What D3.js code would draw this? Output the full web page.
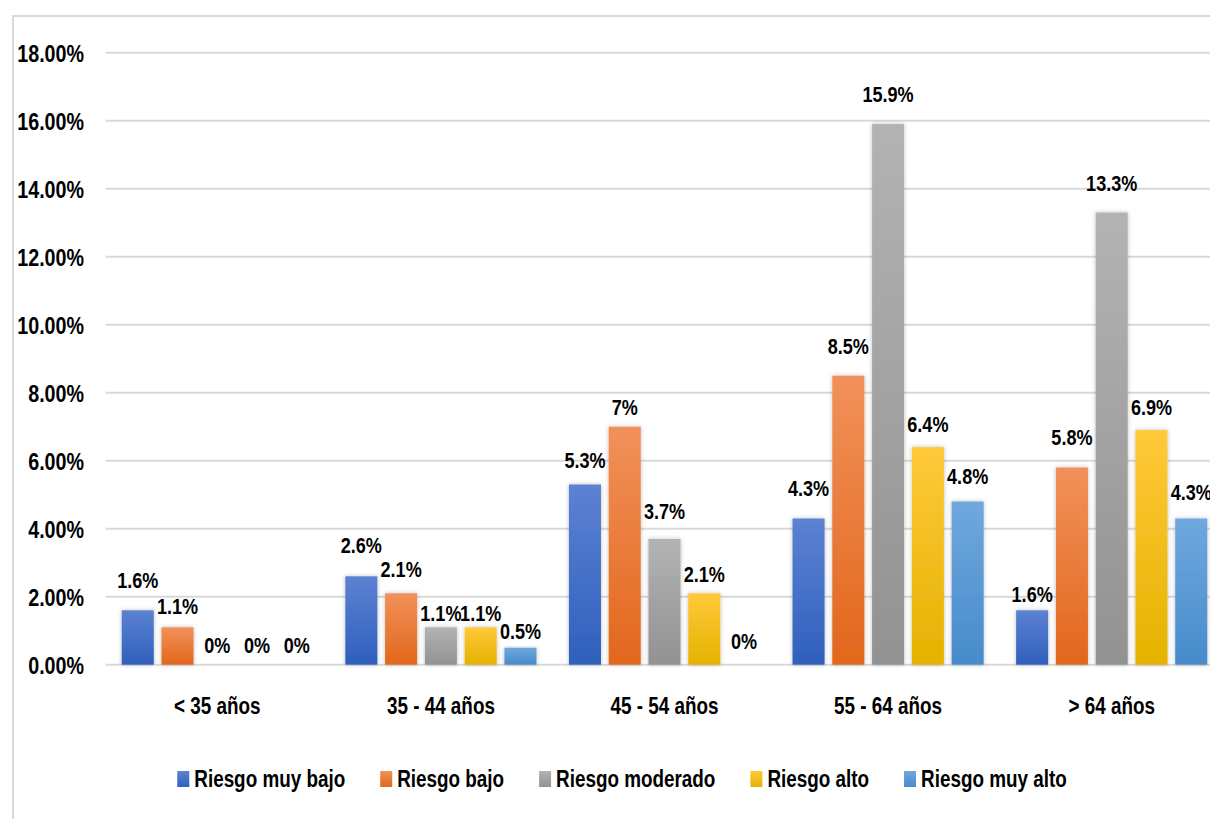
<!DOCTYPE html>
<html>
<head>
<meta charset="utf-8">
<script src="https://cdn.jsdelivr.net/npm/d3@7"></script>
<style>
  html, body { margin: 0; padding: 0; background: #fff; overflow: hidden; }
  svg { display: block; }
  text { font-family: "Liberation Sans", Arial, sans-serif; font-weight: bold; fill: #000; }
</style>
</head>
<body>
<svg id="chart" width="1210" height="819"></svg>
<script>
// Age groups and risk levels
const categories = ["< 35 años", "35 - 44 años", "45 - 54 años", "55 - 64 años", "> 64 años"];
const seriesNames = ["Riesgo muy bajo", "Riesgo bajo", "Riesgo moderado", "Riesgo alto", "Riesgo muy alto"];

// Percentage of people in each risk level, per age group
const riesgoMuyBajo  = [1.6, 2.6, 5.3, 4.3, 1.6];
const riesgoBajo     = [1.1, 2.1, 7.0, 8.5, 5.8];
const riesgoModerado = [0,   1.1, 3.7, 15.9, 13.3];
const riesgoAlto     = [0,   1.1, 2.1, 6.4, 6.9];
const riesgoMuyAlto  = [0,   0.5, 0,   4.8, 4.3];

const yTicks = [0, 2, 4, 6, 8, 10, 12, 14, 16, 18];

const seriesValues = [riesgoMuyBajo, riesgoBajo, riesgoModerado, riesgoAlto, riesgoMuyAlto];

// ---- styling / layout ----
const palette = [
  ["#5c82d2", "#2f5fbd"],
  ["#f1915a", "#e2671c"],
  ["#b3b3b3", "#929292"],
  ["#ffc93a", "#e5b200"],
  ["#70a8de", "#468bcb"]
];
// distance between each data label's baseline and its bar top (per group, per series)
const labelGap = [
  [22, 13, 12, 12, 12],
  [23, 16, 6, 6, 9],
  [17, 12, 20, 11, 16],
  [23, 22, 22, 15, 18],
  [8, 23, 22, 15, 19]
];
// narrow face: squeeze glyphs horizontally
const NARROW = 0.82;
function condense(sel) {
  sel.each(function () {
    const w = this.getComputedTextLength();
    if (w > 0) {
      this.setAttribute("textLength", (w * NARROW).toFixed(2));
      this.setAttribute("lengthAdjust", "spacingAndGlyphs");
    }
  });
}

const svg = d3.select("#chart");
const defs = svg.append("defs");

palette.forEach((c, i) => {
  const g = defs.append("linearGradient")
    .attr("id", "grad" + i).attr("x1", 0).attr("y1", 0).attr("x2", 0).attr("y2", 1);
  g.append("stop").attr("offset", "0%").attr("stop-color", c[0]);
  g.append("stop").attr("offset", "100%").attr("stop-color", c[1]);
});

const shadow = defs.append("filter").attr("id", "barShadow")
  .attr("x", "-30%").attr("y", "-10%").attr("width", "160%").attr("height", "120%");
shadow.append("feDropShadow").attr("dx", 0).attr("dy", 0)
  .attr("stdDeviation", 2).attr("flood-color", "#000").attr("flood-opacity", 0.25);

// chart frame (left and top edges visible)
svg.append("path")
  .attr("d", "M13,819 L13,16 L1210,16")
  .attr("fill", "none").attr("stroke", "#d9d9d9").attr("stroke-width", 2);

const plotLeft = 105.5, plotRight = 1223.5;
const y = d3.scaleLinear().domain([0, 18]).range([664.7, 52.7]);

const x0 = d3.scaleBand().domain(categories).range([plotLeft, plotRight])
  .paddingInner(0.145).paddingOuter(0.0725);
const x1 = d3.scaleBand().domain(d3.range(seriesNames.length)).range([0, x0.bandwidth()])
  .paddingInner(0.194).paddingOuter(0);

// gridlines
svg.append("g").selectAll("line").data(yTicks).join("line")
  .attr("x1", plotLeft).attr("x2", 1210)
  .attr("y1", d => y(d)).attr("y2", d => y(d))
  .attr("stroke", "#d9d9d9").attr("stroke-width", 2);

// y axis labels
const yAxis = d3.axisLeft(y).tickValues(yTicks).tickSize(0).tickPadding(0)
  .tickFormat(d => d3.format(".2f")(d) + "%");
const yG = svg.append("g").attr("transform", "translate(84,0)").call(yAxis);
yG.select(".domain").remove();
yG.selectAll("text").attr("font-size", 24).attr("font-family", null)
  .attr("dy", "0.36em").attr("fill", "#000").call(condense);

// bars
const groups = svg.append("g").selectAll("g").data(categories).join("g")
  .attr("transform", d => `translate(${x0(d)},0)`);

groups.selectAll("rect")
  .data((d, gi) => seriesValues.map((vals, si) => ({ si, gi, v: vals[gi] })))
  .join("rect")
  .attr("x", d => x1(d.si))
  .attr("width", x1.bandwidth())
  .attr("y", d => y(d.v))
  .attr("height", d => y(0) - y(d.v))
  .attr("fill", d => `url(#grad${d.si})`)
  .attr("filter", d => d.v > 0 ? "url(#barShadow)" : null);

// data labels
groups.selectAll("text.val")
  .data((d, gi) => seriesValues.map((vals, si) => ({ si, gi, v: vals[gi] })))
  .join("text").attr("class", "val")
  .attr("x", d => x1(d.si) + x1.bandwidth() / 2)
  .attr("y", d => y(d.v) - labelGap[d.gi][d.si])
  .attr("text-anchor", "middle")
  .attr("font-size", 22)
  .text(d => d.v + "%")
  .call(condense);

// x axis labels
const xAxis = d3.axisBottom(x0).tickSize(0).tickPadding(0);
const xG = svg.append("g").attr("transform", "translate(0,714)").call(xAxis);
xG.select(".domain").remove();
xG.selectAll("text").attr("font-size", 23).attr("font-family", null)
  .attr("dy", 0).attr("fill", "#000").call(condense);

// legend
const legend = svg.append("g");
const items = legend.selectAll("g").data(seriesNames).join("g");
items.append("rect").attr("x", 0).attr("y", 771).attr("width", 12).attr("height", 16)
  .attr("fill", (d, i) => `url(#grad${i})`);
items.append("text").attr("x", 17).attr("y", 787).attr("font-size", 23).text(d => d)
  .call(condense);

let widths = [];
items.each(function () { widths.push(+this.querySelector("text").getAttribute("textLength")); });
const itemGap = 35;
const total = d3.sum(widths, w => 17 + w) + itemGap * (widths.length - 1);
let cx = 622 - total / 2;
items.attr("transform", (d, i) => {
  const t = `translate(${cx},0)`;
  cx += 17 + widths[i] + itemGap;
  return t;
});
</script>
</body>
</html>
